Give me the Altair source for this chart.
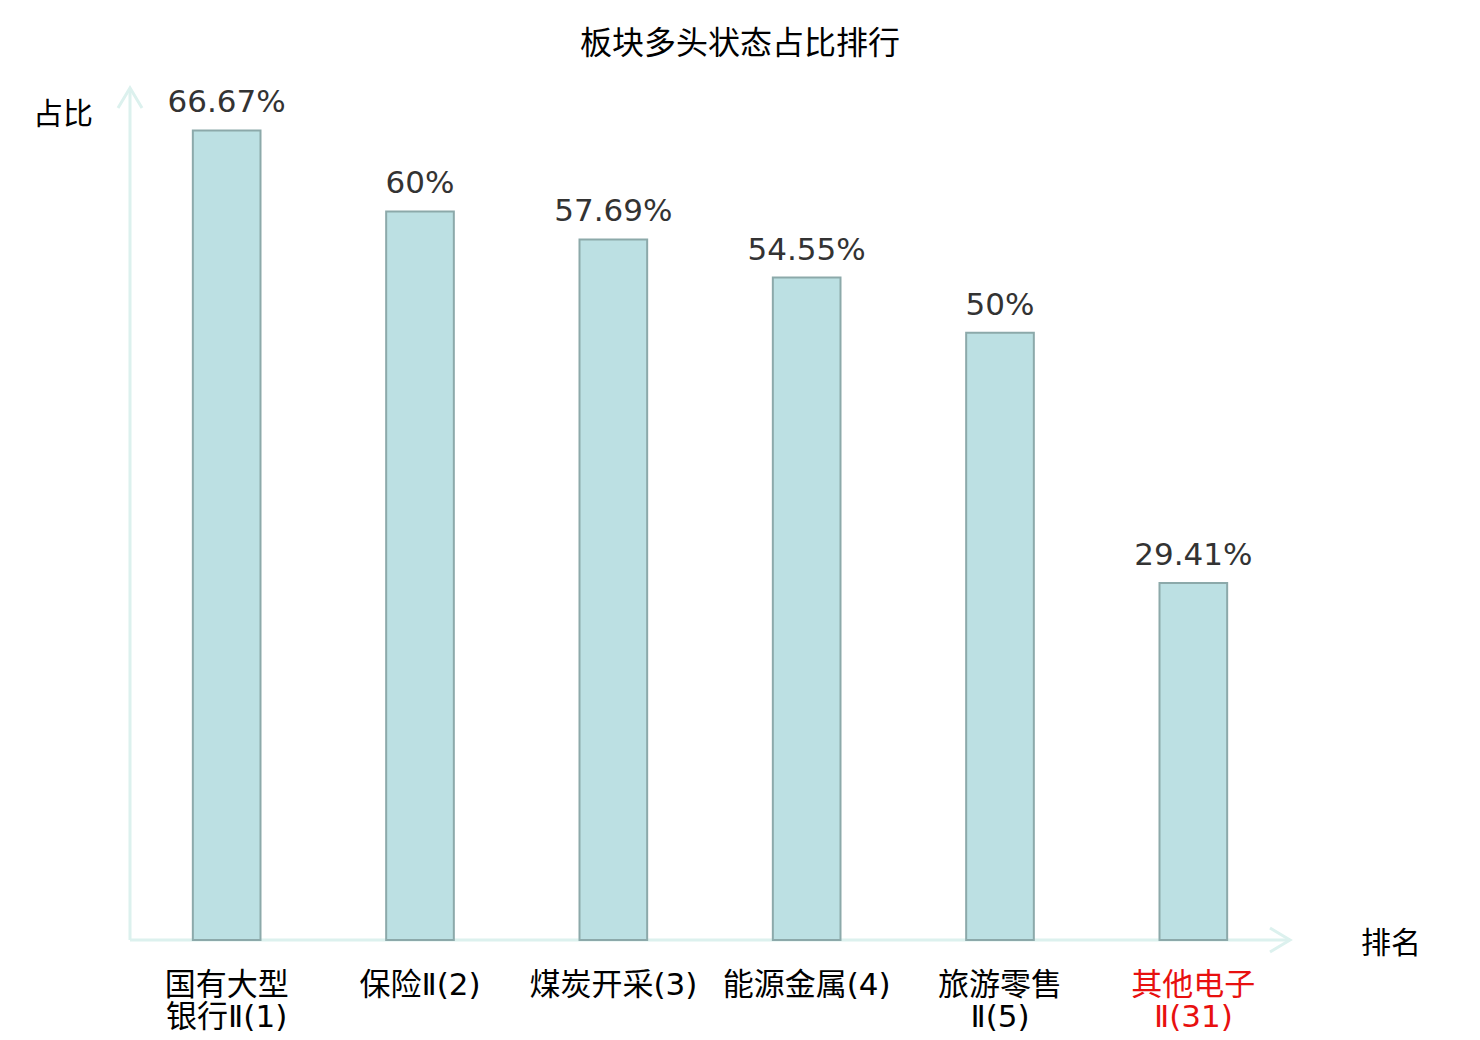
import altair as alt
import pandas as pd

# ---- data ----
categories = ["国有大型银行Ⅱ(1)", "保险Ⅱ(2)", "煤炭开采(3)", "能源金属(4)", "旅游零售Ⅱ(5)", "其他电子Ⅱ(31)"]
tick_labels = ["国有大型\n银行Ⅱ(1)", "保险Ⅱ(2)", "煤炭开采(3)", "能源金属(4)", "旅游零售\nⅡ(5)", "其他电子\nⅡ(31)"]
values = [66.67, 60, 57.69, 54.55, 50, 29.41]
value_labels = ["66.67%", "60%", "57.69%", "54.55%", "50%", "29.41%"]
label_group = ["normal", "normal", "normal", "normal", "normal", "highlight"]

df = pd.DataFrame({
    "cat": categories,
    "tick": tick_labels,
    "val": values,
    "vlabel": value_labels,
    "grp": label_group,
})
one = pd.DataFrame({"k": [0]})

W, H = 1160, 850
AXIS_COLOR = "#dcf1ee"
CJK = "Noto Sans CJK SC"
LABEL_FONT = "DejaVu Sans, Noto Sans CJK SC"

xenc = alt.X("cat:N", sort=categories, axis=None,
             scale=alt.Scale(paddingInner=0.65, paddingOuter=0.325))
yenc = alt.Y("val:Q", axis=None, scale=alt.Scale(domain=[0, 70], nice=False, zero=True))

base = alt.Chart(df)

# axes (drawn as decorations)
y_axis = alt.Chart(one).mark_rule(color=AXIS_COLOR, strokeWidth=3).encode(
    x=alt.value(0), y=alt.value(-2), y2=alt.value(H))
x_axis = alt.Chart(one).mark_rule(color=AXIS_COLOR, strokeWidth=3).encode(
    x=alt.value(0), x2=alt.value(W), y=alt.value(H))
y_arrow = alt.Chart(one).mark_point(
    shape="M -1 1.667 L 0 0 L 1 1.667", size=576, filled=False,
    stroke=AXIS_COLOR, strokeWidth=3, opacity=1).encode(
    x=alt.value(0), y=alt.value(-2))
x_arrow = alt.Chart(one).mark_point(
    shape="M -1.667 -1 L 0 0 L -1.667 1", size=576, filled=False,
    stroke=AXIS_COLOR, strokeWidth=3, opacity=1).encode(
    x=alt.value(W), y=alt.value(H))

bars = base.mark_bar(fill="#bce0e3", stroke="#8ca9aa", strokeWidth=2).encode(
    x=xenc, y=yenc)

vlabels = base.mark_text(font="DejaVu Sans", fontSize=31, color="#333333",
                         baseline="alphabetic", dy=-18).encode(
    x=xenc, y=yenc, text="vlabel:N")

cat_labels = base.mark_text(font=LABEL_FONT, fontSize=31, fontWeight={"expr": "399"},
                            lineBreak="\n", lineHeight=32,
                            baseline="alphabetic").encode(
    x=xenc, y=alt.value(905), text="tick:N",
    color=alt.Color("grp:N", scale=alt.Scale(domain=["normal", "highlight"],
                                             range=["#000000", "#e8100f"]), legend=None))

title = alt.Chart(one).mark_text(text="板块多头状态占比排行", font=CJK, fontSize=32,
                                 color="#000000", baseline="middle").encode(
    x=alt.value(610), y=alt.value(-46))
ytitle = alt.Chart(one).mark_text(text="占比", font=CJK, fontSize=30,
                                  color="#000000", baseline="middle").encode(
    x=alt.value(-67), y=alt.value(25))
xtitle = alt.Chart(one).mark_text(text="排名", font=CJK, fontSize=30,
                                  color="#000000", baseline="middle").encode(
    x=alt.value(1261), y=alt.value(854))

chart = alt.layer(
    y_axis, x_axis, y_arrow, x_arrow, bars, vlabels, cat_labels, title, ytitle, xtitle
).properties(
    width=W, height=H,
    autosize=alt.AutoSizeParams(type="none"),
    padding={"left": 122, "top": 82, "right": 182, "bottom": 92},
    background="#ffffff",
).configure_view(strokeWidth=0, stroke=None)

chart.save("out.html", embed_options={"renderer": "svg", "actions": False})
